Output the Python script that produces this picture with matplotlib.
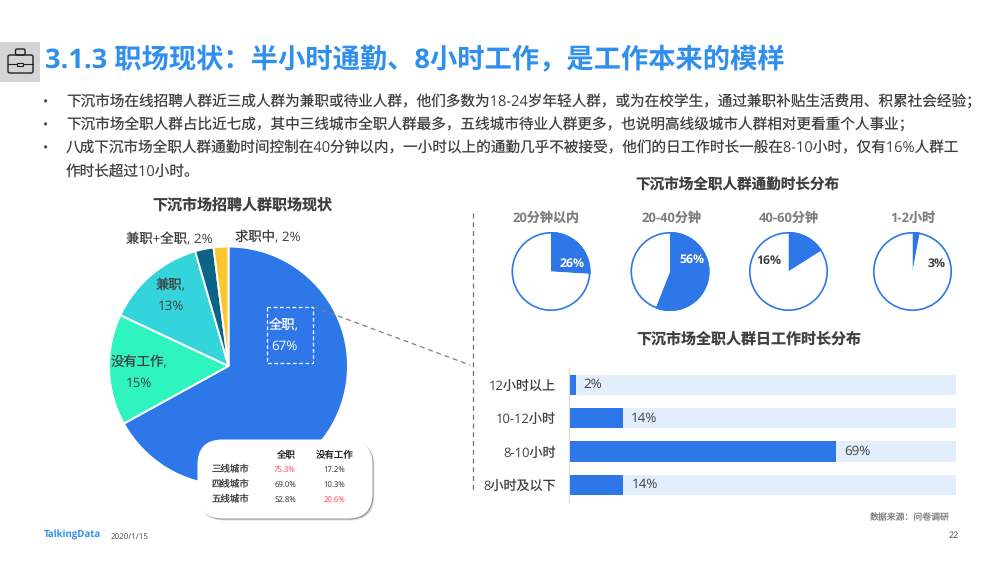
import matplotlib
matplotlib.use("Agg")
import matplotlib.pyplot as plt
from matplotlib.patches import FancyBboxPatch, Rectangle, Circle

plt.rcParams["font.family"] = ["Open Sans", "Noto Sans CJK SC", "DejaVu Sans"]
plt.rcParams["text.hinting"] = "no_hinting"

# data
title = "3.1.3 职场现状：半小时通勤、8小时工作，是工作本来的模样"
bullets = [
    "下沉市场在线招聘人群近三成人群为兼职或待业人群，他们多数为18-24岁年轻人群，或为在校学生，通过兼职补贴生活费用、积累社会经验；",
    "下沉市场全职人群占比近七成，其中三线城市全职人群最多，五线城市待业人群更多，也说明高线级城市人群相对更看重个人事业；",
    "八成下沉市场全职人群通勤时间控制在40分钟以内，一小时以上的通勤几乎不被接受，他们的日工作时长一般在8-10小时，仅有16%人群工",
]
bullet_tail = "作时长超过10小时。"

job_names = ["全职", "没有工作", "兼职", "兼职+全职", "求职中"]
job_values = [67, 15, 13, 2, 2]
job_shares = [67, 15, 13.5, 2.5, 2]  # unrounded slice sizes as drawn, labels show job_values

commute_names = ["20分钟以内", "20-40分钟", "40-60分钟", "1-2小时"]
commute_values = [26, 56, 16, 3]

work_names = ["12小时以上", "10-12小时", "8-10小时", "8小时及以下"]
work_values = [2, 14, 69, 14]

city_names = ["三线城市", "四线城市", "五线城市"]
city_fulltime = ["75.3%", "69.0%", "52.8%"]
city_jobless = ["17.2%", "10.3%", "20.6%"]

BLUE = "#2E77E8"
TITLE_BLUE = "#2F8FEF"
TEXT = "#404040"
RED = "#FF3B4B"
job_colors = [BLUE, "#30F4C0", "#33D4DC", "#0B6484", "#FCC72E"]

W, H = 1000, 563
fig = plt.figure(figsize=(W / 100, H / 100), dpi=100, facecolor="white")


def pixel_axes(x0, y0, x1, y1, **kw):
    # box given in image pixels, y going down
    return fig.add_axes([x0 / W, 1 - y1 / H, (x1 - x0) / W, (y1 - y0) / H], **kw)


bg = pixel_axes(0, 0, W, H, zorder=0)
bg.set_xlim(0, W)
bg.set_ylim(H, 0)
bg.axis("off")

top = pixel_axes(0, 0, W, H, zorder=5)
top.set_xlim(0, W)
top.set_ylim(H, 0)
top.axis("off")
top.patch.set_alpha(0)

# header icon
bg.add_patch(Rectangle((0, 42), 40, 40, fc="#D4D4D4", ec="none"))
bg.add_patch(FancyBboxPatch((8, 55), 25, 18, boxstyle="round,pad=0,rounding_size=2", fc="none", ec="#222222", lw=1))
bg.add_patch(FancyBboxPatch((15.5, 49), 9.5, 6, boxstyle="round,pad=0,rounding_size=1.5", fc="none", ec="#222222", lw=1))
bg.plot([8, 17], [64, 64], color="#222222", lw=0.8)
bg.plot([23, 33], [64, 64], color="#222222", lw=0.8)
bg.add_patch(Rectangle((17, 62.5), 6, 3, fc="none", ec="#222222", lw=0.8))

bg.text(45, 61, title, fontsize=19.65, fontweight="bold", color=TITLE_BLUE, va="center", ha="left")

bullet_y = [103, 125.5, 148.5]
for y, line in zip(bullet_y, bullets):
    bg.text(43, y, "•", fontsize=10, color=TEXT, va="center", ha="left")
    bg.text(66, y, line, fontsize=10.52, color=TEXT, va="center", ha="left")
bg.text(66, 171.5, bullet_tail, fontsize=10.52, color=TEXT, va="center", ha="left")

# chart titles
bg.text(242, 205.5, "下沉市场招聘人群职场现状", fontsize=10.8, fontweight="bold", color=TEXT, ha="center", va="center")
bg.text(737, 185.5, "下沉市场全职人群通勤时长分布", fontsize=10.5, fontweight="bold", color=TEXT, ha="center", va="center")
bg.text(749, 340, "下沉市场全职人群日工作时长分布", fontsize=10.8, fontweight="bold", color=TEXT, ha="center", va="center")

# dashed divider
bg.plot([473.3, 473.3], [213, 490], color="#707070", lw=0.9, ls=(0, (4, 3)))


def pie_axes(cx, cy, r):
    ax = pixel_axes(cx - r * 1.1, cy - r * 1.1, cx + r * 1.1, cy + r * 1.1, zorder=2)
    return ax


# big pie
ax = pie_axes(228.5, 366, 119.5)
ax.pie(job_shares, colors=job_colors, startangle=90, counterclock=False,
       wedgeprops={"edgecolor": "white", "linewidth": 1.4})
ax.set_xlim(-1.1, 1.1)
ax.set_ylim(-1.1, 1.1)

label_pos = [(284, 336), (139, 373), (171, 296), (169, 240), (268, 238)]
label_col = ["white", TEXT, TEXT, TEXT, TEXT]
for i, name in enumerate(job_names):
    if i < 3:
        s = f"{name},\n{job_values[i]}%"
    else:
        s = f"{name}, {job_values[i]}%"
    top.text(label_pos[i][0], label_pos[i][1], s, fontsize=9.6, color=label_col[i],
             ha="center", va="center", linespacing=1.7)

# callout box and connector
top.add_patch(Rectangle((266.7, 306.7), 46.6, 56.6, fc="none", ec="white", lw=0.9, ls=(0, (3, 2))))
top.plot([313.3, 470], [306.7, 365], color="#808080", lw=0.9, ls=(0, (4, 3)))

# small table card
for off, a in [(3.5, 0.12), (2.5, 0.2), (1.5, 0.3)]:
    top.add_patch(FancyBboxPatch((197.5 + off * 0.6, 439.5 + off * 0.6), 175, 79, boxstyle="round,pad=0,rounding_size=25",
                                 fc="#404040", ec="none", alpha=a))
top.add_patch(FancyBboxPatch((197.5, 439.5), 175, 79, boxstyle="round,pad=0,rounding_size=25", fc="white", ec="none"))
top.text(285, 456, "全职", fontsize=6.8, color="#222222", ha="center", va="center")
top.text(334.5, 456, "没有工作", fontsize=6.8, color="#222222", ha="center", va="center")
row_y = [469.5, 485, 500]
for y, name, a, b in zip(row_y, city_names, city_fulltime, city_jobless):
    top.text(230.5, y, name, fontsize=6.8, color=TEXT, ha="center", va="center")
    top.text(285, y, a, fontsize=5.6, color=RED if a == "75.3%" else "#222222", ha="center", va="center")
    top.text(334.5, y, b, fontsize=5.6, color=RED if b == "20.6%" else "#222222", ha="center", va="center")

# commute pies
pie_centers = [(551, 271.5), (670, 271.5), (788.5, 271.5), (912.5, 271.5)]
title_x = [546, 671, 788.5, 913]
value_pos = [(572, 263.5), (692, 260), (769, 261), (937, 264)]
value_col = ["white", "white", TEXT, TEXT]
for i, (c, v) in enumerate(zip(pie_centers, commute_values)):
    ax = pie_axes(c[0], c[1], 39.5)
    ax.pie([v, 100 - v], colors=[BLUE, "white"], startangle=90, counterclock=False)
    ax.add_patch(Circle((0, 0), 0.98, fc="none", ec=BLUE, lw=1.2))
    ax.set_xlim(-1.1, 1.1)
    ax.set_ylim(-1.1, 1.1)
    bg.text(title_x[i], 218.5, commute_names[i], fontsize=9.4, fontweight="bold", color="#7F7F7F", ha="center", va="center")
    top.text(value_pos[i][0], value_pos[i][1], f"{v}%", fontsize=8.8, fontweight="bold", color=value_col[i], ha="center", va="center")

# work hours bars
ax = pixel_axes(568.5, 368, 955.7, 501.7, zorder=2)
ypos = list(range(len(work_names)))
ax.barh(ypos, [100] * len(work_values), height=0.61, color="#E2EEFC")
ax.barh(ypos, work_values, height=0.61, color=BLUE)
ax.set_xlim(0, 100)
ax.set_ylim(len(work_names) - 0.5, -0.5)
ax.set_yticks(ypos)
ax.set_yticklabels(work_names, fontsize=9.4, color=TEXT)
ax.tick_params(axis="y", length=0, pad=9)
ax.set_xticks([])
for s in ["top", "right", "bottom"]:
    ax.spines[s].set_visible(False)
ax.spines["left"].set_color("#D9D9D9")
ax.spines["left"].set_linewidth(0.8)
value_offset = [1.75, 2.0, 2.15, 2.4]
for y, v, off in zip(ypos, work_values, value_offset):
    ax.text(v + off, y, f"{v}%", fontsize=9.6, color=TEXT, va="center", ha="left")

# footer
bg.text(950, 518, "数据来源：问卷调研", fontsize=6.4, color="#808080", ha="right", va="center")
bg.text(959, 536, "22", fontsize=6.5, color=TEXT, ha="right", va="center")
bg.text(44, 535.5, "TalkingData", fontsize=6.9, fontweight="bold", color=TITLE_BLUE, ha="left", va="center")
bg.text(111, 536.5, "2020/1/15", fontsize=5.8, color=TEXT, ha="left", va="center")

fig.savefig("out.png", dpi=100)
